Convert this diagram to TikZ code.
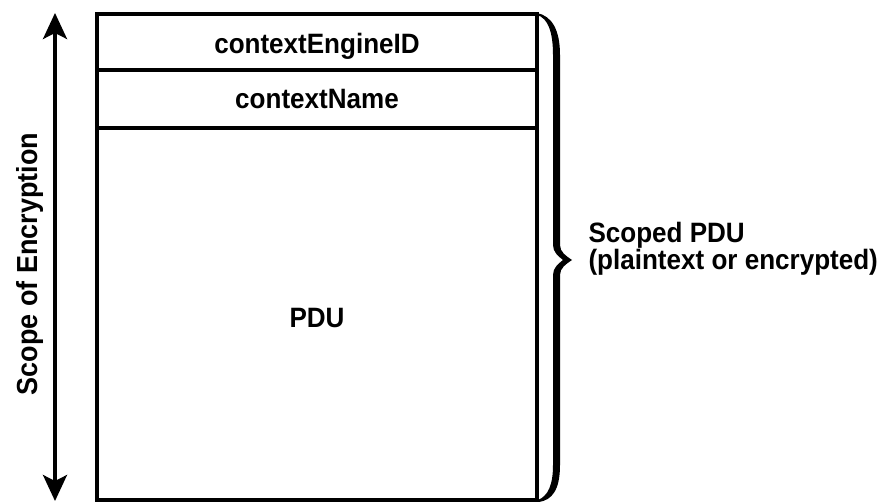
\documentclass[tikz,border=0pt]{standalone}
\usepackage{fontspec}
\setmainfont{Liberation Sans}[FakeStretch=0.93]
\usetikzlibrary{arrows.meta}
\tikzset{bigtip/.tip={Stealth[length=26pt,width=24pt,inset=6pt]}}
\begin{document}
\begin{tikzpicture}[x=1pt,y=-1pt,
  lbl/.style={font=\fontsize{28}{30}\selectfont\bfseries},
  field/.style={draw, line width=3.5pt, minimum width=440pt, inner sep=0pt,
                text depth=0pt, lbl}]
\useasboundingbox (0,0) rectangle (883,502);

% message fields (text height sets where each baseline falls)
\node[field, minimum height=56pt, text height=24pt]  (eng)  at (317,42)  {contextEngineID};
\node[field, minimum height=58pt, text height=20pt]  (name) at (317,99)  {contextName};
\node[field, minimum height=372pt, text height=28pt] (pdu)  at (317,314) {PDU};

% brace grouping the fields
\fill (537,13) .. controls (552,16) and (560,30) .. (560,55)
  -- (560,245) .. controls (560,252) and (566,256) .. (572,260)
  .. controls (566,264) and (560,268) .. (560,275)
  -- (560,465) .. controls (560,490) and (552,500) .. (539,502)
  -- (538,500) .. controls (548,496) and (553,485) .. (553,465)
  -- (553,275) .. controls (553,268) and (558,264) .. (563,260)
  .. controls (558,256) and (553,252) .. (553,245)
  -- (553,55) .. controls (553,32) and (548,18) .. (537,15) -- cycle;

\node[lbl, anchor=base west] (scoped) at (585,243) {Scoped PDU};
\node[lbl, anchor=base west] (plain)  at (585,270) {(plaintext or encrypted)};

% scope of encryption arrow
\coordinate (atop) at (55,13);
\coordinate (abot) at (55,501);
\draw[line width=3.5pt, bigtip-bigtip] (atop) -- (abot);
\node[lbl, rotate=90, anchor=base, font=\fontsize{29}{30}\selectfont\bfseries] (scope) at (37,264) {Scope of Encryption};
\end{tikzpicture}
\end{document}
